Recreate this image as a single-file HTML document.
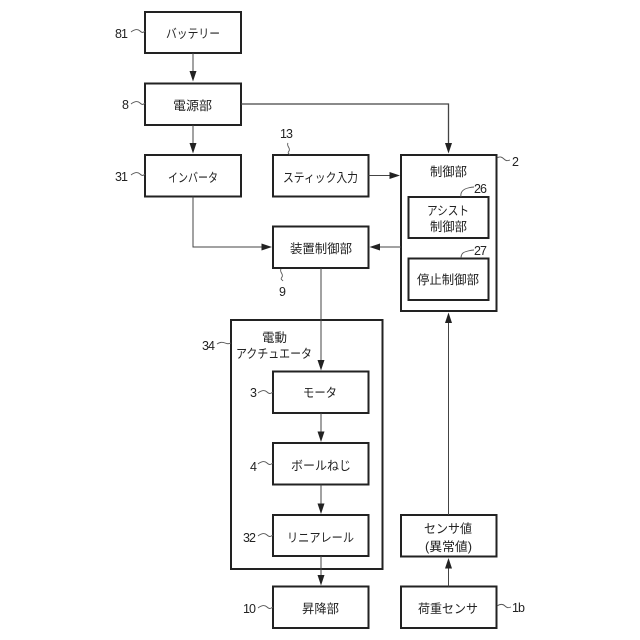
<!DOCTYPE html>
<html lang="ja"><head><meta charset="utf-8"><style>
html,body{margin:0;padding:0;background:#fff}
svg{display:block}
text{font-family:"Liberation Sans","Noto Sans CJK JP",sans-serif;font-size:12.5px;fill:#222}
.c{text-anchor:middle}
.n{font-size:15px;letter-spacing:-1px}
.e{text-anchor:end}
.b{fill:none;stroke:#222;stroke-width:2}
.l{fill:none;stroke:#444;stroke-width:1}
.s{fill:none;stroke:#555;stroke-width:.9}
.a{fill:#222;stroke:none}
</style></head><body>
<svg width="640" height="640" viewBox="0 0 640 640" xmlns="http://www.w3.org/2000/svg">
<rect width="640" height="640" fill="#fff"/>
<g class="b">
<rect x="145" y="12" width="96" height="41"/>
<rect x="145" y="83.500" width="96" height="41.500"/>
<rect x="145" y="155" width="96" height="41.500"/>
<rect x="273" y="155" width="95.500" height="41.500"/>
<rect x="273" y="226.500" width="95.500" height="41.500"/>
<rect x="401" y="155" width="95.500" height="156"/>
<rect x="408.500" y="197" width="80" height="41"/>
<rect x="408.500" y="258.500" width="80" height="41.500"/>
<rect x="231" y="320" width="151.500" height="249"/>
<rect x="273" y="371.500" width="95.500" height="41.500"/>
<rect x="273" y="443" width="95.500" height="41.500"/>
<rect x="273" y="515" width="95.500" height="41"/>
<rect x="273" y="586.500" width="95.500" height="41.500"/>
<rect x="401" y="515" width="95.500" height="41.500"/>
<rect x="401" y="586.500" width="95.500" height="41.500"/>
</g>
<g class="l">
<path d="M193 53V74"/>
<path d="M193 125V146"/>
<path d="M241 104H448.500V146" stroke-width="1.300"/>
<path d="M193 196.500V247H264"/>
<path d="M368.500 175.500H392"/>
<path d="M401 247H377"/>
<path d="M321 268V362"/>
<path d="M321 413V434"/>
<path d="M321 484.500V506"/>
<path d="M321 556V577"/>
<path d="M448.500 515V321"/>
<path d="M448.500 586.500V565"/>
</g>
<g class="a">
<path d="M189.500 71H196.500L193 81.500Z"/>
<path d="M189.500 143H196.500L193 153.500Z"/>
<path d="M445 143H452L448.500 153.500Z"/>
<path d="M261.500 243.500V250.500L272 247Z"/>
<path d="M389.500 172V179L400 175.500Z"/>
<path d="M380 243.500V250.500L369.500 247Z"/>
<path d="M317.500 360H324.500L321 370.500Z"/>
<path d="M317.500 431.500H324.500L321 442Z"/>
<path d="M317.500 503.500H324.500L321 514Z"/>
<path d="M317.500 575H324.500L321 585.500Z"/>
<path d="M445 323H452L448.500 312.500Z"/>
<path d="M445 568.500H452L448.500 558Z"/>
</g>
<g class="s">
<path d="M131 32C135 29 138 29 140 31S143 33 145 31"/>
<path d="M131 104C135 101 138 101 140 103S143 105 145 103"/>
<path d="M131 175C135 172 138 172 140 174S143 176 145 174"/>
<path d="M288 143C286 146 291 148 289 151S289 153 290 155"/>
<path d="M281 269C279 272 284 274 282 277S282 279 283 281"/>
<path d="M497 158C500 156 502 157 504 159S507 161 510 160"/>
<path d="M461 197C460 191 464 189 468 188S472 187 474 187"/>
<path d="M461 258C461 253 464 252 468 251S472 250 474 250"/>
<path d="M217 344C220 342 222 342 225 343S228 344 231 343"/>
<path d="M258 393C262 390 265 390 267 392S270 394 273 392"/>
<path d="M258 464C262 461 265 461 267 463S270 465 273 463"/>
<path d="M258 536C262 533 265 533 267 535S270 537 273 535"/>
<path d="M258 608C262 605 265 605 267 607S270 609 273 607"/>
<path d="M497 606C500 604 503 604 505 606S508 608 511 607"/>
</g>
<g lengthAdjust="spacingAndGlyphs">
<text x="166" y="38" textLength="54" lengthAdjust="spacingAndGlyphs">バッテリー</text>
<text x="173" y="110" textLength="39" lengthAdjust="spacingAndGlyphs">電源部</text>
<text x="168" y="182" textLength="50" lengthAdjust="spacingAndGlyphs">インバータ</text>
<text x="283" y="182" textLength="75" lengthAdjust="spacingAndGlyphs">スティック入力</text>
<text x="290" y="253" textLength="62" lengthAdjust="spacingAndGlyphs">装置制御部</text>
<text x="430" y="176" textLength="37" lengthAdjust="spacingAndGlyphs">制御部</text>
<text x="427" y="215" textLength="42" lengthAdjust="spacingAndGlyphs">アシスト</text>
<text x="430" y="231" textLength="37" lengthAdjust="spacingAndGlyphs">制御部</text>
<text x="417" y="284" textLength="62" lengthAdjust="spacingAndGlyphs">停止制御部</text>
<text x="262" y="342" textLength="25" lengthAdjust="spacingAndGlyphs">電動</text>
<text x="236" y="358" textLength="76" lengthAdjust="spacingAndGlyphs">アクチュエータ</text>
<text x="303" y="397" textLength="34" lengthAdjust="spacingAndGlyphs">モータ</text>
<text x="291" y="470" textLength="60" lengthAdjust="spacingAndGlyphs">ボールねじ</text>
<text x="287" y="542" textLength="67" lengthAdjust="spacingAndGlyphs">リニアレール</text>
<text x="302" y="613" textLength="37" lengthAdjust="spacingAndGlyphs">昇降部</text>
<text x="424" y="533" textLength="48" lengthAdjust="spacingAndGlyphs">センサ値</text>
<text x="425" y="551" textLength="47" lengthAdjust="spacingAndGlyphs">(異常値)</text>
<text x="418" y="613" textLength="60" lengthAdjust="spacingAndGlyphs">荷重センサ</text>
</g>
<g class="n">
<text x="115" y="38">81</text>
<text x="122" y="109">8</text>
<text x="115" y="181">31</text>
<text x="280" y="138">13</text>
<text x="279" y="296">9</text>
<text x="512" y="166">2</text>
<text x="474" y="193">26</text>
<text x="474" y="255">27</text>
<text x="202" y="350">34</text>
<text x="250" y="397">3</text>
<text x="250" y="471">4</text>
<text x="243" y="542">32</text>
<text x="243" y="613">10</text>
<text x="512" y="612">1b</text>
</g>
</svg>
</body></html>
